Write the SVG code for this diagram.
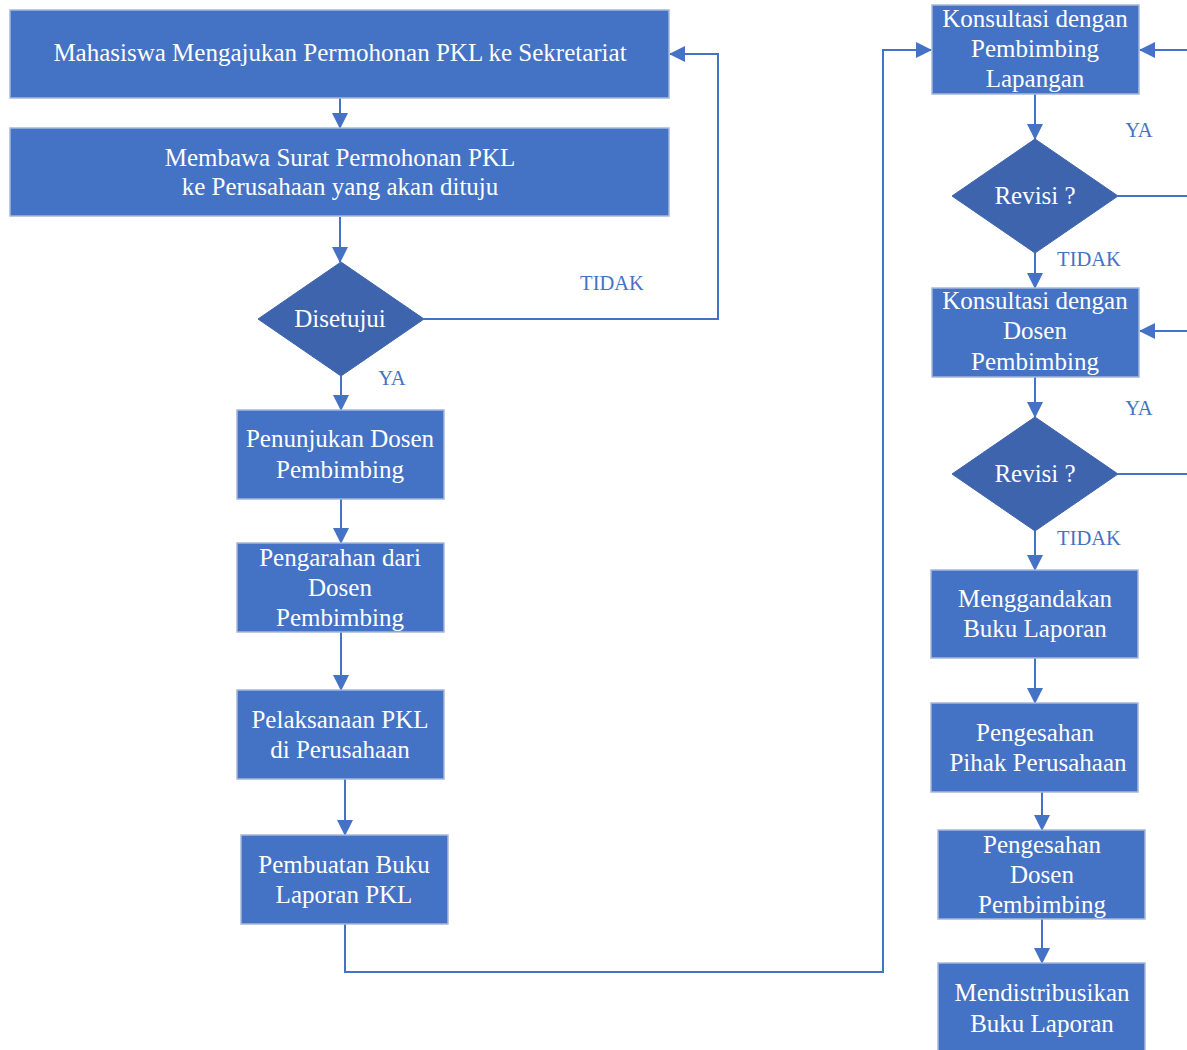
<svg xmlns="http://www.w3.org/2000/svg" width="1187" height="1050" viewBox="0 0 1187 1050">
<style>
.box{fill:#4472C4;stroke:#A7B8DA;stroke-width:1.5}
.dia{fill:#3D64AD;stroke:#3D64AD;stroke-width:1}
.t{font-family:"Liberation Serif","Times New Roman",serif;font-size:25px;fill:#fff;text-anchor:middle}
.lbl{font-family:"Liberation Serif","Times New Roman",serif;font-size:20.5px;fill:#4472C4;text-anchor:middle}
.c{fill:none;stroke:#4472C4;stroke-width:2}
</style>
<defs>
<marker id="ah" markerUnits="userSpaceOnUse" markerWidth="16" markerHeight="16" viewBox="0 0 16 16" refX="15" refY="8" orient="auto">
<path d="M0,0 L16,8 L0,16 Z" fill="#4472C4"/>
</marker>
</defs>
<rect width="1187" height="1050" fill="#fff"/>
<g id="connectors">
<path class="c" d="M340,98 V128" marker-end="url(#ah)"/>
<path class="c" d="M340,217 V262" marker-end="url(#ah)"/>
<path class="c" d="M424,319 H718 V54 H670" marker-end="url(#ah)"/>
<path class="c" d="M341,376 V410" marker-end="url(#ah)"/>
<path class="c" d="M341,499 V543" marker-end="url(#ah)"/>
<path class="c" d="M341,632 V690" marker-end="url(#ah)"/>
<path class="c" d="M345,779 V835" marker-end="url(#ah)"/>
<path class="c" d="M345,924 V972 H883 V50 H931" marker-end="url(#ah)"/>
<path class="c" d="M1187,50 H1140" marker-end="url(#ah)"/>
<path class="c" d="M1035,94 V139" marker-end="url(#ah)"/>
<path class="c" d="M1118,196 H1187"/>
<path class="c" d="M1035,253 V288" marker-end="url(#ah)"/>
<path class="c" d="M1187,331 H1140" marker-end="url(#ah)"/>
<path class="c" d="M1035,377 V417" marker-end="url(#ah)"/>
<path class="c" d="M1118,474 H1187"/>
<path class="c" d="M1035,531 V570" marker-end="url(#ah)"/>
<path class="c" d="M1035,658 V703" marker-end="url(#ah)"/>
<path class="c" d="M1042,792 V830" marker-end="url(#ah)"/>
<path class="c" d="M1042,919 V963" marker-end="url(#ah)"/>
<text class="lbl" x="612" y="290">TIDAK</text>
<text class="lbl" x="392" y="385">YA</text>
<text class="lbl" x="1139" y="137">YA</text>
<text class="lbl" x="1089" y="266">TIDAK</text>
<text class="lbl" x="1139" y="415">YA</text>
<text class="lbl" x="1089" y="545">TIDAK</text>
</g>
<g id="n1"><rect class="box" x="10" y="10" width="659" height="88"/><text class="t" x="340" y="61">Mahasiswa Mengajukan Permohonan PKL ke Sekretariat</text></g>
<g id="n2"><rect class="box" x="10" y="128" width="659" height="88"/><text class="t" x="340" y="166">Membawa Surat Permohonan PKL</text><text class="t" x="340" y="195">ke Perusahaan yang akan dituju</text></g>
<g id="n3"><path class="dia" d="M341,262 L424,319 L341,376 L258,319 Z"/><text class="t" x="340" y="327">Disetujui</text></g>
<g id="n4"><rect class="box" x="237" y="410" width="207" height="89"/><text class="t" x="340" y="447">Penunjukan Dosen</text><text class="t" x="340" y="478">Pembimbing</text></g>
<g id="n5"><rect class="box" x="237" y="543" width="207" height="89"/><text class="t" x="340" y="566">Pengarahan dari</text><text class="t" x="340" y="596">Dosen</text><text class="t" x="340" y="626">Pembimbing</text></g>
<g id="n6"><rect class="box" x="237" y="690" width="207" height="89"/><text class="t" x="340" y="728">Pelaksanaan PKL</text><text class="t" x="340" y="758">di Perusahaan</text></g>
<g id="n7"><rect class="box" x="241" y="835" width="207" height="89"/><text class="t" x="344" y="873">Pembuatan Buku</text><text class="t" x="344" y="903">Laporan PKL</text></g>
<g id="n8"><rect class="box" x="932" y="5" width="207" height="89"/><text class="t" x="1035" y="27">Konsultasi dengan</text><text class="t" x="1035" y="57">Pembimbing</text><text class="t" x="1035" y="87">Lapangan</text></g>
<g id="n9"><path class="dia" d="M1035,139 L1118,196 L1035,253 L952,196 Z"/><text class="t" x="1035" y="204">Revisi ?</text></g>
<g id="n10"><rect class="box" x="932" y="288" width="207" height="89"/><text class="t" x="1035" y="309">Konsultasi dengan</text><text class="t" x="1035" y="339">Dosen</text><text class="t" x="1035" y="370">Pembimbing</text></g>
<g id="n11"><path class="dia" d="M1035,417 L1118,474 L1035,531 L952,474 Z"/><text class="t" x="1035" y="482">Revisi ?</text></g>
<g id="n12"><rect class="box" x="931" y="570" width="207" height="88"/><text class="t" x="1035" y="607">Menggandakan</text><text class="t" x="1035" y="637">Buku Laporan</text></g>
<g id="n13"><rect class="box" x="931" y="703" width="207" height="89"/><text class="t" x="1035" y="741">Pengesahan</text><text class="t" x="1038" y="771">Pihak Perusahaan</text></g>
<g id="n14"><rect class="box" x="938" y="830" width="207" height="89"/><text class="t" x="1042" y="853">Pengesahan</text><text class="t" x="1042" y="883">Dosen</text><text class="t" x="1042" y="913">Pembimbing</text></g>
<g id="n15"><rect class="box" x="938" y="963" width="207" height="89"/><text class="t" x="1042" y="1001">Mendistribusikan</text><text class="t" x="1042" y="1032">Buku Laporan</text></g>
</svg>
